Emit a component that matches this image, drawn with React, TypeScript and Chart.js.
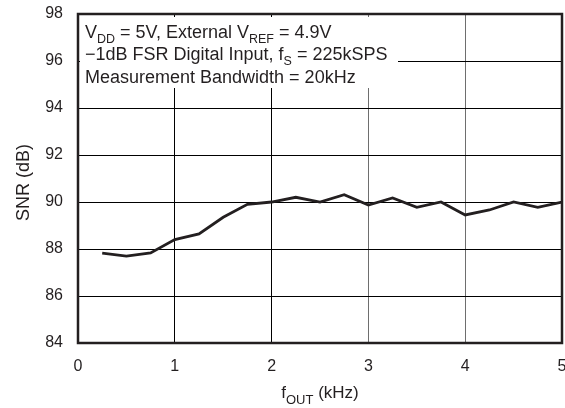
import React, { useEffect, useRef } from "react";
import { Chart, registerables } from "chart.js";

Chart.register(...registerables);

const fOutKHz = [0.25, 0.5, 0.75, 1.0, 1.25, 1.5, 1.75, 2.0, 2.25, 2.5, 2.75, 3.0, 3.25, 3.5, 3.75, 4.0, 4.25, 4.5, 4.75, 5.0];
const snrDb = [87.82, 87.7, 87.83, 88.4, 88.64, 89.35, 89.9, 90.0, 90.2, 90.0, 90.31, 89.87, 90.17, 89.77, 90.0, 89.45, 89.66, 90.0, 89.77, 90.0];

const xTicks = [0, 1, 2, 3, 4, 5];
const yTicks = [84, 86, 88, 90, 92, 94, 96, 98];

const noteLines = [
  [{ t: "V" }, { t: "DD", sub: true }, { t: " = 5V, External V" }, { t: "REF", sub: true }, { t: " = 4.9V" }],
  [{ t: "\u22121dB FSR Digital Input, f" }, { t: "S", sub: true }, { t: " = 225kSPS" }],
  [{ t: "Measurement Bandwidth = 20kHz" }],
];
const xTitle = [{ t: "f" }, { t: "OUT", sub: true }, { t: " (kHz)" }];
const yTitle = "SNR (dB)";

const FONT = "'Liberation Sans', Arial, Helvetica, sans-serif";
const INK = "#231f20";

type Part = { t: string; sub?: boolean };

function richWidth(ctx: CanvasRenderingContext2D, parts: Part[], size: number, subSize: number) {
  let w = 0;
  for (const p of parts) {
    ctx.font = `${p.sub ? subSize : size}px ${FONT}`;
    w += ctx.measureText(p.t).width;
  }
  return w;
}

function drawRich(ctx: CanvasRenderingContext2D, parts: Part[], x: number, y: number, size: number, subSize: number, subDrop: number) {
  let cx = x;
  ctx.textAlign = "left";
  ctx.textBaseline = "alphabetic";
  for (const p of parts) {
    ctx.font = `${p.sub ? subSize : size}px ${FONT}`;
    ctx.fillText(p.t, cx, p.sub ? y + subDrop : y);
    cx += ctx.measureText(p.t).width;
  }
}

const decorPlugin = {
  id: "decor",
  beforeDatasetsDraw(chart: any) {
    const ctx = chart.ctx as CanvasRenderingContext2D;
    const a = chart.chartArea;
    ctx.save();
    ctx.fillStyle = "#ffffff";
    ctx.fillRect(a.left + 2, a.top + 3, 398 - (a.left + 2), 88 - (a.top + 3));
    ctx.fillStyle = INK;
    const baselines = [37.5, 60, 82.5];
    noteLines.forEach((line, i) => {
      drawRich(ctx, line as Part[], 85, baselines[i], 18, 12.5, 5);
    });
    ctx.restore();
  },
  afterDraw(chart: any) {
    const ctx = chart.ctx as CanvasRenderingContext2D;
    const a = chart.chartArea;
    ctx.save();
    ctx.strokeStyle = INK;
    ctx.lineWidth = 2.5;
    ctx.strokeRect(a.left, a.top, a.right - a.left, a.bottom - a.top);
    ctx.fillStyle = INK;
    // x title
    const w = richWidth(ctx, xTitle as Part[], 17, 13);
    drawRich(ctx, xTitle as Part[], (a.left + a.right) / 2 - w / 2, 398, 17, 13, 6);
    // y title
    ctx.translate(29, 182.5);
    ctx.rotate(-Math.PI / 2);
    ctx.font = `18px ${FONT}`;
    ctx.textAlign = "center";
    ctx.textBaseline = "alphabetic";
    ctx.fillText(yTitle, 0, 0);
    ctx.restore();
  },
};

export default function App() {
  const ref = useRef<HTMLCanvasElement | null>(null);
  useEffect(() => {
    document.body.style.margin = "0";
    const canvas = ref.current;
    if (!canvas) return;
    const chart = new Chart(canvas, {
      type: "line",
      data: {
        datasets: [
          {
            data: fOutKHz.map((x, i) => ({ x, y: snrDb[i] })),
            borderColor: INK,
            borderWidth: 2.8,
            pointRadius: 0,
            tension: 0,
            fill: false,
          },
        ],
      },
      options: {
        animation: false,
        responsive: true,
        maintainAspectRatio: false,
        layout: { padding: { left: 0, right: 3, top: 14, bottom: 0 } },
        plugins: { legend: { display: false }, tooltip: { enabled: false }, title: { display: false } },
        scales: {
          x: {
            type: "linear",
            min: xTicks[0],
            max: xTicks[xTicks.length - 1],
            afterBuildTicks: (s: any) => {
              s.ticks = xTicks.map((v) => ({ value: v }));
            },
            afterFit: (s: any) => {
              s.height = 65;
              s.paddingLeft = 0;
              s.paddingRight = 0;
            },
            ticks: {
              color: INK,
              font: { size: 16, family: FONT },
              padding: 14,
              maxRotation: 0,
              autoSkip: false,
            },
            grid: {
              drawTicks: false,
              lineWidth: 1,
              color: (c: any) => (c.tick && (c.tick.value === 3 || c.tick.value === 4) ? "#6e6e6e" : "#000000"),
            },
            border: { display: false },
          },
          y: {
            min: yTicks[0],
            max: yTicks[yTicks.length - 1],
            afterBuildTicks: (s: any) => {
              s.ticks = yTicks.map((v) => ({ value: v }));
            },
            afterFit: (s: any) => {
              s.width = 78;
              s.paddingTop = 0;
              s.paddingBottom = 0;
            },
            ticks: {
              color: INK,
              font: { size: 16, family: FONT },
              padding: 15,
              autoSkip: false,
            },
            grid: { drawTicks: false, lineWidth: 1, color: "#000000" },
            border: { display: false },
          },
        },
      },
      plugins: [decorPlugin],
    } as any);
    return () => chart.destroy();
  }, []);
  return (
    <div style={{ position: "relative", width: 565, height: 408 }}>
      <canvas ref={ref} />
    </div>
  );
}
